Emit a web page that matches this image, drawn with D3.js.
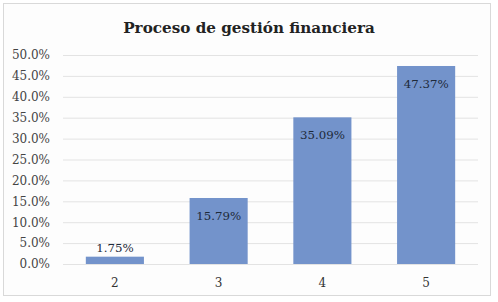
<!DOCTYPE html>
<html><head><meta charset="utf-8">
<script src="https://cdn.jsdelivr.net/npm/d3@7"></script>
<style>html,body{margin:0;padding:0;background:#fff;}svg{display:block;}</style>
</head><body>
<script>
const categories = ["2", "3", "4", "5"];
const values = [0.0175, 0.1579, 0.3509, 0.4737];
const labels = ["1.75%", "15.79%", "35.09%", "47.37%"];
const yTicks = [0, 0.05, 0.10, 0.15, 0.20, 0.25, 0.30, 0.35, 0.40, 0.45, 0.50];
const title = "Proceso de gestión financiera";

(function () {
const W = 498, H = 302;
const font = "'DejaVu Serif', 'Liberation Serif', serif";
const svg = d3.select("body").append("svg").attr("width", W).attr("height", H);
svg.append("rect").attr("x", 3.5).attr("y", 3.5).attr("width", 487).attr("height", 292)
  .attr("fill", "#fdfdfd").attr("stroke", "#d9d9d9");

const pl = 63, pr = 478, pt = 55, pb = 264;
const x = d3.scaleBand().domain(categories).range([pl, pr]).paddingInner(0.44).paddingOuter(0.22);
const y = d3.scaleLinear().domain([0, 0.5]).range([pb, pt]);

svg.append("text").attr("x", W / 2).attr("y", 33).attr("text-anchor", "middle")
  .attr("font-family", font).attr("font-weight", "bold").attr("font-size", 15.2).attr("fill", "#222")
  .text(title);

const yAxis = d3.axisLeft(y).tickValues(yTicks).tickFormat(d3.format(".1%")).tickSize(-(pr - pl)).tickPadding(13);
const gy = svg.append("g").attr("transform", `translate(${pl},0)`).call(yAxis);
gy.select(".domain").remove();
gy.selectAll(".tick line").attr("stroke", "#e3e3e3");
gy.selectAll(".tick text").attr("font-family", font).attr("font-size", 12).attr("fill", "#444");

const xAxis = d3.axisBottom(x).tickSize(0).tickPadding(14);
const gx = svg.append("g").attr("transform", `translate(0,${pb})`).call(xAxis);
gx.select(".domain").remove();
gx.selectAll(".tick text").attr("font-family", font).attr("font-size", 12).attr("fill", "#333");

svg.selectAll(".bar").data(values).join("rect").attr("class", "bar")
  .attr("x", (d, i) => x(categories[i])).attr("width", x.bandwidth())
  .attr("y", d => y(d)).attr("height", d => pb - y(d)).attr("fill", "#7393cb");

svg.selectAll(".lbl").data(values).join("text").attr("class", "lbl")
  .attr("x", (d, i) => x(categories[i]) + x.bandwidth() / 2)
  .attr("y", d => (pb - y(d) > 30 ? y(d) + 22 : y(d) - 5))
  .attr("text-anchor", "middle").attr("font-family", font).attr("font-size", 11.8).attr("fill", "#1e2a3a")
  .text((d, i) => labels[i]);
})();
</script>
</body></html>
